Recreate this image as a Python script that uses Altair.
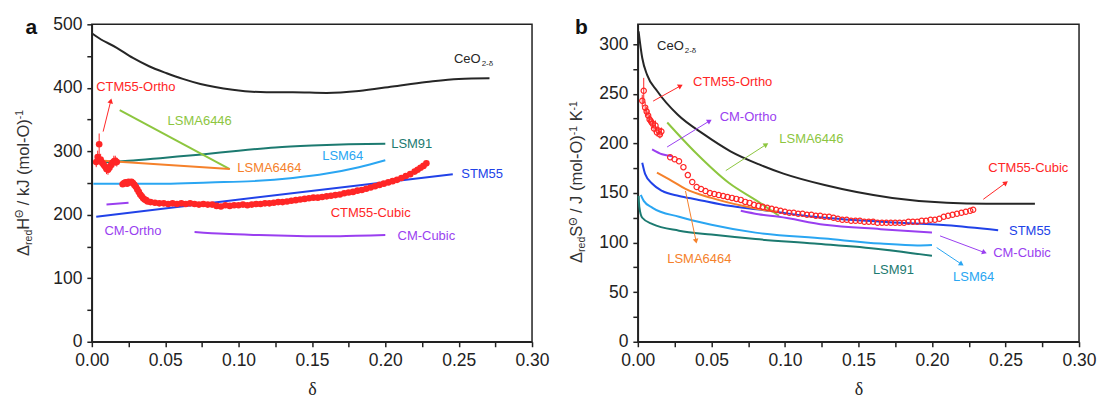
import math
import altair as alt
import pandas as pd

FONT = "Liberation Sans"
INK = "#222222"

# plot-area sizes (px) and axis ranges
W_A, W_B, H = 441, 442, 318
X_MAX = 0.30
YA_MAX, YB_MAX = 500, 320

COLORS = {
    "CeO2": "#262626",
    "CTM55": "#ff2626",
    "LSMA6446": "#8dc63f",
    "LSMA6464": "#f5812b",
    "LSM91": "#1c7a70",
    "LSM64": "#2aa6f2",
    "STM55": "#2142e8",
    "CM": "#9a3ff0",
}

# ---------------- (a) reduction enthalpy, kJ (mol-O)^-1 ----------------
a_ceo2_d = [0.000, 0.005, 0.017, 0.028, 0.039, 0.051, 0.062, 0.074, 0.096, 0.119, 0.137, 0.160, 0.182, 0.205, 0.228, 0.250, 0.271]
a_ceo2_h = [486, 478, 463, 447, 434, 423, 414, 406, 397, 393, 393, 392, 395, 402, 409, 414, 415]

a_lsm91_d = [0.001, 0.025, 0.050, 0.075, 0.100, 0.125, 0.150, 0.175, 0.200]
a_lsm91_h = [282, 285, 290, 295, 301, 306, 309, 311, 312]

a_lsm64_d = [0.001, 0.050, 0.080, 0.110, 0.137, 0.160, 0.182, 0.200]
a_lsm64_h = [249, 249, 251, 253, 258, 265, 275, 286]

a_stm55_d = [0.003, 0.246]
a_stm55_h = [197, 264]

a_lsma6446_d = [0.019, 0.094]
a_lsma6446_h = [365, 272]

a_lsma6464_d = [0.003, 0.094]
a_lsma6464_h = [286, 272]

a_cm_ortho_d = [0.010, 0.025]
a_cm_ortho_h = [216, 219]

a_cm_cubic_d = [0.070, 0.090, 0.114, 0.140, 0.160, 0.180, 0.200]
a_cm_cubic_h = [173, 170, 168, 166.5, 166, 167, 168]

# CTM55, orthorhombic region (with error bars)
a_ctm_o_d = [0.003, 0.004, 0.005, 0.006, 0.007, 0.008, 0.009, 0.010, 0.011, 0.012, 0.013, 0.014, 0.015, 0.016, 0.017]
a_ctm_o_h = [283, 291, 311, 287, 282, 279, 276, 272, 271, 274, 278, 282, 284, 285, 283]
a_ctm_o_e = [8, 10, 17, 9, 8, 8, 8, 8, 8, 7, 7, 7, 9, 8, 7]

# CTM55, cubic region
a_ctm_c_d = [0.021, 0.022, 0.023, 0.024, 0.025, 0.026, 0.027, 0.028, 0.029, 0.030, 0.031, 0.032, 0.033,
             0.034, 0.035, 0.036, 0.037, 0.038, 0.040, 0.043, 0.046, 0.049, 0.052, 0.055, 0.058, 0.061,
             0.064, 0.067, 0.070, 0.073, 0.076, 0.079, 0.082, 0.085, 0.088, 0.091, 0.094, 0.097, 0.100,
             0.103, 0.106, 0.109, 0.112, 0.115, 0.118, 0.121, 0.124, 0.127, 0.130, 0.133, 0.136, 0.139,
             0.142, 0.145, 0.148, 0.151, 0.154, 0.157, 0.160, 0.163, 0.166, 0.169, 0.172, 0.175, 0.178,
             0.181, 0.184, 0.187, 0.190, 0.193, 0.196, 0.199, 0.202, 0.205, 0.208, 0.211, 0.214, 0.217,
             0.220, 0.222, 0.224, 0.226, 0.228]
a_ctm_c_h = [248, 250, 251, 249, 252, 251, 252, 250, 247, 244, 240, 236, 232,
             229, 226, 224, 223, 221, 220, 219, 218, 218, 217, 218, 217, 218,
             217, 218, 217, 216, 217, 216, 216, 214, 213, 215, 214, 215, 215,
             216, 215, 216, 217, 217, 218, 218, 219, 220, 220, 221, 222, 223,
             224, 225, 226, 227, 227, 228, 229, 230, 231, 232, 234, 235, 236,
             238, 239, 241, 243, 245, 247, 249, 251, 253, 255, 258, 261, 264,
             268, 271, 274, 277, 281]

# ---------------- (b) reduction entropy, J (mol-O)^-1 K^-1 ----------------
b_ceo2_d = [0.0005, 0.003, 0.0063, 0.013, 0.027, 0.045, 0.063, 0.082, 0.099, 0.127, 0.173, 0.210, 0.237, 0.270]
b_ceo2_s = [313, 286, 269, 253, 229, 209, 192, 179, 169.5, 158, 145, 140, 139, 139]

b_stm55_d = [0.003, 0.005, 0.010, 0.0165, 0.028, 0.040, 0.062, 0.084, 0.120, 0.165, 0.210, 0.245]
b_stm55_s = [180.5, 169, 159, 152, 147, 143.5, 137, 133, 126, 121, 117.5, 112.5]

b_lsma6464_d = [0.013, 0.0233, 0.0324, 0.050, 0.071, 0.089, 0.095]
b_lsma6464_s = [170.5, 162, 154, 145, 137, 132, 131]

b_lsma6446_d = [0.020, 0.039, 0.062, 0.081, 0.096]
b_lsma6446_s = [221, 191, 160, 142, 127]

b_lsm64_d = [0.002, 0.004, 0.010, 0.028, 0.050, 0.080, 0.127, 0.165, 0.190, 0.200]
b_lsm64_s = [148, 142, 135, 126, 118, 110, 104, 99, 97, 97.5]

b_lsm91_d = [0.0005, 0.001, 0.003, 0.010, 0.028, 0.050, 0.080, 0.120, 0.165, 0.200]
b_lsm91_s = [147, 136, 125, 118.5, 112, 108, 103.5, 99, 93.3, 86.6]

b_cm_ortho_d = [0.0097, 0.0165, 0.0233]
b_cm_ortho_s = [194, 189, 187]

b_cm_cubic_d = [0.070, 0.082, 0.096, 0.127, 0.165, 0.200]
b_cm_cubic_s = [132, 128.5, 126, 118, 113.5, 110]

b_ctm_o_d = [0.003, 0.004, 0.005, 0.006, 0.007, 0.008, 0.009, 0.010, 0.011, 0.012, 0.013, 0.014, 0.015, 0.016]
b_ctm_o_s = [243, 253, 236, 232, 228, 224, 222, 220, 215, 218, 211, 213, 209, 212]
b_ctm_o_e = [6, 13, 6, 5, 5, 5, 5, 5, 4, 5, 4, 4, 4, 4]

b_ctm_c_d = [0.022, 0.025, 0.028, 0.031, 0.034, 0.037, 0.040, 0.043, 0.046, 0.049, 0.052, 0.055, 0.058,
             0.061, 0.064, 0.067, 0.070, 0.073, 0.076, 0.079, 0.082, 0.085, 0.088, 0.091, 0.094, 0.097,
             0.100, 0.103, 0.106, 0.109, 0.112, 0.115, 0.118, 0.121, 0.124, 0.127, 0.130, 0.133, 0.136,
             0.139, 0.142, 0.145, 0.148, 0.151, 0.154, 0.157, 0.160, 0.163, 0.166, 0.169, 0.172, 0.175,
             0.178, 0.181, 0.184, 0.187, 0.190, 0.193, 0.196, 0.199, 0.202, 0.205, 0.208, 0.211, 0.214,
             0.217, 0.220, 0.223, 0.226, 0.228]
b_ctm_c_s = [186, 184, 182, 176, 168, 161, 156, 154, 152, 150, 149, 148, 147,
             146, 145, 144, 143, 141, 140, 138, 137, 136, 135, 134, 133, 132,
             131, 130, 130, 129, 129, 128, 128, 127, 127, 126, 126, 125, 124,
             123, 123, 122, 122, 122, 121, 121, 121, 120, 120, 120, 120, 120,
             120, 120, 121, 121, 121, 122, 122, 123, 123, 124, 126, 127, 128,
             129, 130, 131, 132, 133]

# ---------------- series name labels and pointer arrows ----------------
lab_a_text = ["CTM55-Ortho", "LSMA6446", "LSMA6464", "LSM91", "LSM64", "STM55", "CTM55-Cubic", "CM-Ortho", "CM-Cubic"]
lab_a_group = ["CTM55", "LSMA6446", "LSMA6464", "LSM91", "LSM64", "STM55", "CTM55", "CM", "CM"]
lab_a_d = [0.0300, 0.0735, 0.121, 0.218, 0.171, 0.266, 0.190, 0.028, 0.228]
lab_a_v = [402, 347, 273, 312, 292, 265, 203, 174, 166]

lab_b_text = ["CTM55-Ortho", "CM-Ortho", "LSMA6446", "CTM55-Cubic", "STM55", "CM-Cubic", "LSM64", "LSM91", "LSMA6464"]
lab_b_group = ["CTM55", "CM", "LSMA6446", "CTM55", "STM55", "CM", "LSM64", "LSM91", "LSMA6464"]
lab_b_d = [0.0645, 0.075, 0.118, 0.2655, 0.2666, 0.2612, 0.2283, 0.1738, 0.0418]
lab_b_v = [262, 227, 204, 175, 112, 89, 65, 72, 83]

# CeO2-δ label anchor (d, value): "CeO" ends here, subscript starts here
ceo2_lab_a = (0.265, 439)
ceo2_lab_b = (0.0312, 294)

# arrows: group, start d, start value, tip d, tip value
arr_a = [("CTM55", 0.0077, 331, 0.0134, 384)]
arr_b = [
    ("CTM55", 0.0104, 242.6, 0.0308, 259.4),
    ("CM", 0.0199, 196.3, 0.0505, 224.2),
    ("LSMA6446", 0.0598, 172.5, 0.0890, 200.5),
    ("LSMA6464", 0.0324, 152, 0.0400, 98.4),
    ("CTM55", 0.2349, 143.6, 0.2519, 162.1),
    ("CM", 0.2055, 106.7, 0.2376, 88.9),
    ("LSM64", 0.2032, 94.9, 0.2218, 76.5),
]

# ---------------- helpers ----------------
ONE = pd.DataFrame({"k": [0]})
CSCALE = alt.Scale(domain=list(COLORS), range=list(COLORS.values()))

ADV = {"Δ": .667, "Θ": .778, "r": .333, "e": .556, "d": .556, "H": .722, "S": .667, " ": .278,
       "/": .278, "k": .5, "J": .5, "(": .333, ")": .333, "m": .833, "o": .556, "l": .222,
       "-": .333, "O": .778, "1": .556, "K": .667}


def text_w(s, size):
    return sum(ADV.get(c, .556) for c in s) * size


def rotated_title(pieces, x0, y0):
    """Vertical axis title built from pieces with sub/superscripts, reading upward."""
    layers = []
    y = y0
    for text, size, shift in pieces:
        lead = len(text) - len(text.lstrip(" "))
        y -= text_w(" " * lead, size)
        body = text.strip(" ")
        layers.append(
            alt.Chart(ONE).mark_text(
                text=body, angle=270, align="left", baseline="alphabetic",
                fontSize=size, font=FONT, color="#333333",
            ).encode(x=alt.value(x0 + shift), y=alt.value(y))
        )
        y -= text_w(body, size)
        trail = len(text) - len(text.rstrip(" "))
        y -= text_w(" " * trail, size)
    return layers


def panel_letter(letter, x, y):
    return alt.Chart(ONE).mark_text(
        text=letter, fontSize=21, fontWeight="bold", font=FONT, color="#111111",
        align="center", baseline="alphabetic",
    ).encode(x=alt.value(x), y=alt.value(y))


def series_frame(series):
    rows = []
    for name, group, ds, vs in series:
        for d, v in zip(ds, vs):
            rows.append({"series": name, "group": group, "d": d, "v": v})
    return pd.DataFrame(rows)


X_TICKS = [round(i * 0.025, 3) for i in range(13)]


def build_panel(width, ymax, yvals, ystep, series, ctm_o, ctm_c, filled, labels, ceo2_lab, arrows,
                title_pieces, title_x, title_y, letter, letter_x):
    xs = alt.Scale(domain=[0, X_MAX], nice=False, zero=False)
    ys = alt.Scale(domain=[0, ymax], nice=False)
    xaxis = alt.Axis(
        title="δ", values=X_TICKS,
        labelExpr="round(datum.value * 1000) % 50 == 0 ? format(datum.value, '.2f') : ''",
        labelFlush=False, labelOverlap=False,
    )
    yaxis = alt.Axis(title=None, values=yvals, labelFlush=False, labelOverlap=False,
                     labelExpr=f"datum.value % {ystep} == 0 ? datum.label : ''")
    X = lambda f: alt.X(f"{f}:Q", scale=xs, axis=xaxis)
    Y = lambda f: alt.Y(f"{f}:Q", scale=ys, axis=yaxis)
    col = alt.Color("group:N", scale=CSCALE, legend=None)

    sx = width / X_MAX
    sy = H / ymax

    lines = alt.Chart(series_frame(series)).mark_line(strokeWidth=2, interpolate="monotone").encode(
        x=X("d"), y=Y("v"), color=col, detail="series:N")

    od, ov, oe = ctm_o
    err = pd.DataFrame({"d": od, "lo": [v - e for v, e in zip(ov, oe)], "hi": [v + e for v, e in zip(ov, oe)]})
    errbars = alt.Chart(err).mark_rule(color=COLORS["CTM55"], strokeWidth=1).encode(
        x=X("d"), y=Y("lo"), y2="hi:Q")

    pts = pd.DataFrame({"d": list(od) + list(ctm_c[0]), "v": list(ov) + list(ctm_c[1])})
    if filled:
        marks = alt.Chart(pts).mark_circle(size=44, color=COLORS["CTM55"], opacity=1).encode(x=X("d"), y=Y("v"))
    else:
        marks = alt.Chart(pts).mark_point(shape="circle", size=28, filled=False, strokeWidth=1.2,
                                          color=COLORS["CTM55"], opacity=1).encode(x=X("d"), y=Y("v"))

    # arrows: shafts and triangular heads
    seg_rows, head_rows = [], []
    for i, (g, d1, v1, d2, v2) in enumerate(arrows):
        dx = (d2 - d1) * sx
        dy = -(v2 - v1) * sy
        n = math.hypot(dx, dy)
        ang = math.degrees(math.atan2(dx, -dy)) % 360
        back = 3.0
        hd = d2 - back * dx / n / sx
        hv = v2 + back * dy / n / sy
        seg_rows += [{"id": i, "group": g, "d": d1, "v": v1}, {"id": i, "group": g, "d": hd, "v": hv}]
        head_rows.append({"group": g, "d": hd, "v": hv, "ang": ang})
    shafts = alt.Chart(pd.DataFrame(seg_rows)).mark_line(strokeWidth=1).encode(
        x=X("d"), y=Y("v"), color=col, detail="id:N")
    heads = alt.Chart(pd.DataFrame(head_rows)).mark_point(
        shape="triangle-up", filled=True, size=32, opacity=1).encode(
        x=X("d"), y=Y("v"), color=col, angle=alt.Angle("ang:Q", scale=None))

    ltext, lgroup, ld, lv = labels
    lab = alt.Chart(pd.DataFrame({"text": ltext, "group": lgroup, "d": ld, "v": lv})).mark_text(
        fontSize=13, font=FONT, align="center", baseline="middle").encode(
        x=X("d"), y=Y("v"), text="text:N", color=col)

    cd, cv = ceo2_lab
    ceo_df = pd.DataFrame({"d": [cd], "v": [cv]})
    ceo_main = alt.Chart(ceo_df).mark_text(text="CeO", fontSize=13, font=FONT, color=COLORS["CeO2"],
                                           align="right", baseline="alphabetic").encode(x=X("d"), y=Y("v"))
    ceo_sub = alt.Chart(ceo_df).mark_text(text="2-δ", fontSize=8, font=FONT, color=COLORS["CeO2"],
                                          align="left", baseline="alphabetic", dx=1, dy=3).encode(x=X("d"), y=Y("v"))

    layers = [lines, errbars, marks, shafts, heads, lab, ceo_main, ceo_sub]
    layers += rotated_title(title_pieces, title_x, title_y)
    layers.append(panel_letter(letter, letter_x, 10))
    return alt.layer(*layers).properties(width=width, height=H)


series_a = [
    ("CeO2", "CeO2", a_ceo2_d, a_ceo2_h),
    ("LSM91", "LSM91", a_lsm91_d, a_lsm91_h),
    ("LSM64", "LSM64", a_lsm64_d, a_lsm64_h),
    ("STM55", "STM55", a_stm55_d, a_stm55_h),
    ("LSMA6446", "LSMA6446", a_lsma6446_d, a_lsma6446_h),
    ("LSMA6464", "LSMA6464", a_lsma6464_d, a_lsma6464_h),
    ("CM-Ortho", "CM", a_cm_ortho_d, a_cm_ortho_h),
    ("CM-Cubic", "CM", a_cm_cubic_d, a_cm_cubic_h),
]
series_b = [
    ("CeO2", "CeO2", b_ceo2_d, b_ceo2_s),
    ("LSM91", "LSM91", b_lsm91_d, b_lsm91_s),
    ("LSM64", "LSM64", b_lsm64_d, b_lsm64_s),
    ("STM55", "STM55", b_stm55_d, b_stm55_s),
    ("LSMA6446", "LSMA6446", b_lsma6446_d, b_lsma6446_s),
    ("LSMA6464", "LSMA6464", b_lsma6464_d, b_lsma6464_s),
    ("CM-Ortho", "CM", b_cm_ortho_d, b_cm_ortho_s),
    ("CM-Cubic", "CM", b_cm_cubic_d, b_cm_cubic_s),
]

title_a = [("Δ", 16.5, 0), ("red", 10.5, 3), ("H", 16.5, 0), ("Θ", 10.5, -5.5),
           (" / kJ (mol-O)", 16.5, 0), ("-1", 10.5, -5.5)]
title_b = [("Δ", 16.5, 0), ("red", 10.5, 3), ("S", 16.5, 0), ("Θ", 10.5, -5.5),
           (" / J (mol-O)", 16.5, 0), ("-1", 10.5, -5.5), (" K", 16.5, 0), ("-1", 10.5, -5.5)]

panel_a = build_panel(W_A, YA_MAX, list(range(0, 501, 50)), 100, series_a,
                      (a_ctm_o_d, a_ctm_o_h, a_ctm_o_e), (a_ctm_c_d, a_ctm_c_h), True,
                      (lab_a_text, lab_a_group, lab_a_d, lab_a_v), ceo2_lab_a, arr_a,
                      title_a, -63, 232, "a", -60.5)
panel_b = build_panel(W_B, YB_MAX, list(range(0, 301, 25)), 50, series_b,
                      (b_ctm_o_d, b_ctm_o_s, b_ctm_o_e), (b_ctm_c_d, b_ctm_c_s), False,
                      (lab_b_text, lab_b_group, lab_b_d, lab_b_v), ceo2_lab_b, arr_b,
                      title_b, -55.5, 239, "b", -56.5)

chart = alt.hconcat(panel_a, panel_b, spacing=106, bounds="flush").properties(
    padding={"left": 14, "top": 14, "right": 2, "bottom": 0}
).configure_view(
    stroke=INK, strokeWidth=1.5
).configure_axis(
    domainColor=INK, domainWidth=1.5, tickColor=INK, tickWidth=1.5, tickSize=5,
    labelFont=FONT, labelFontSize=17.5, labelColor=INK, labelPadding=5, grid=False,
    titleFont="Liberation Serif", titleFontSize=18, titleFontWeight="normal", titleColor=INK,
    titlePadding=11,
)

chart.save("out.html", embed_options={"renderer": "svg", "actions": False})
